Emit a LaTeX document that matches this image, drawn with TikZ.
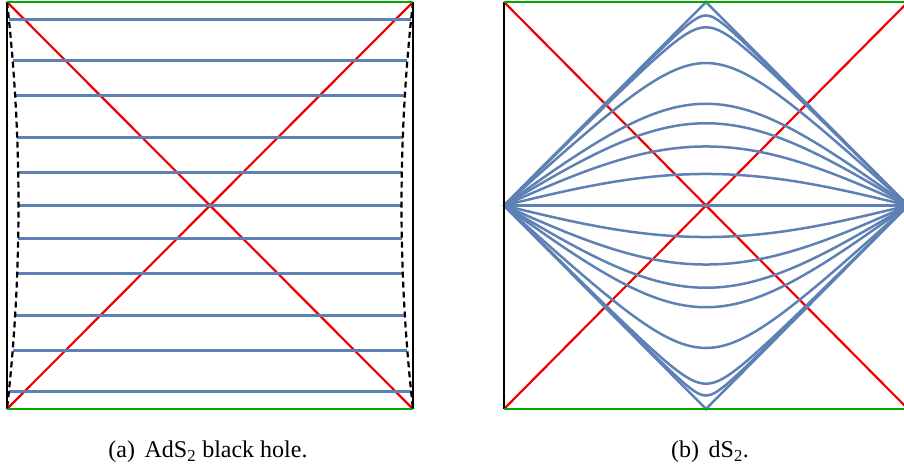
\documentclass[tikz,border=0pt]{standalone}
\usepackage{fontspec}
\setmainfont{Liberation Serif}
\definecolor{mblue}{RGB}{94,129,181}
\definecolor{mred}{RGB}{240,0,0}
\definecolor{mgreen}{RGB}{0,170,0}
\tikzset{
  blueline/.style={draw=mblue, line width=2.5pt},
  redline/.style={draw=mred, line width=2.2pt},
  greenline/.style={draw=mgreen, line width=2.8pt},
  wall/.style={draw=black, line width=2.9pt},
  horizon/.style={draw=black, line width=2.2pt, dash pattern=on 6pt off 4pt},
  captext/.style={font=\fontsize{24}{28}\selectfont, inner sep=0pt}
}
\begin{document}
\begin{tikzpicture}[x=1pt,y=-1pt]
\useasboundingbox (0,0) rectangle (904,470);
\clip (0,0) rectangle (904,470);
% ---------- (a) left panel ----------
\draw[redline] (7,2) -- (413,409);
\draw[redline] (7,409) -- (413,2);
\foreach \o in {-186,-145,-110,-68,-33,0,33,68,110,145,186}{
  \pgfmathsetmacro\tt{\o/203.5}
  \pgfmathsetmacro\dd{11.5*(1-\tt*\tt)}
  \draw[blueline] ({7+\dd},{205.5+\o}) -- ({413-\dd},{205.5+\o});
}
\draw[horizon] plot[domain=-1:1, samples=81] ({7+11.5*(1-\x*\x)},{205.5+203.5*\x});
\draw[horizon] plot[domain=-1:1, samples=81] ({413-11.5*(1-\x*\x)},{205.5+203.5*\x});
\draw[wall] (7,2) -- (7,409);
\draw[wall] (413,2) -- (413,409);
\draw[greenline] (7,2) -- (413,2);
\draw[greenline] (7,409) -- (413,409);
% ---------- (b) right panel ----------
\draw[redline] (504,2) -- (908,409);
\draw[redline] (504,409) -- (908,2);
\draw[blueline] (504,205.5) -- (908,205.5);
\foreach \k in {0.241,0.440,0.593,0.707,0.891,0.981,0.9946}{
  \draw[blueline] plot[domain=-1:1, samples=241] ({706+202*\x},{205.5-2.26111*asin(\k*cos(90*\x))});
  \draw[blueline] plot[domain=-1:1, samples=241] ({706+202*\x},{205.5+2.26111*asin(\k*cos(90*\x))});
}
\draw[blueline, line join=miter] (504,205.5) -- (706,2) -- (908,205.5) -- (706,409) -- cycle;
\draw[wall] (504,2) -- (504,409);
\draw[wall] (908,2) -- (908,409);
\draw[greenline] (504,2) -- (908,2);
\draw[greenline] (504,409) -- (908,409);
% ---------- captions ----------
\node[captext] (capa) at (208,452) {(a)\hspace{0.4em}AdS\textsubscript{2} black hole.};
\node[captext] (capb) at (710,452) {(b)\hspace{0.4em}dS\textsubscript{2}.};
\end{tikzpicture}
\end{document}
